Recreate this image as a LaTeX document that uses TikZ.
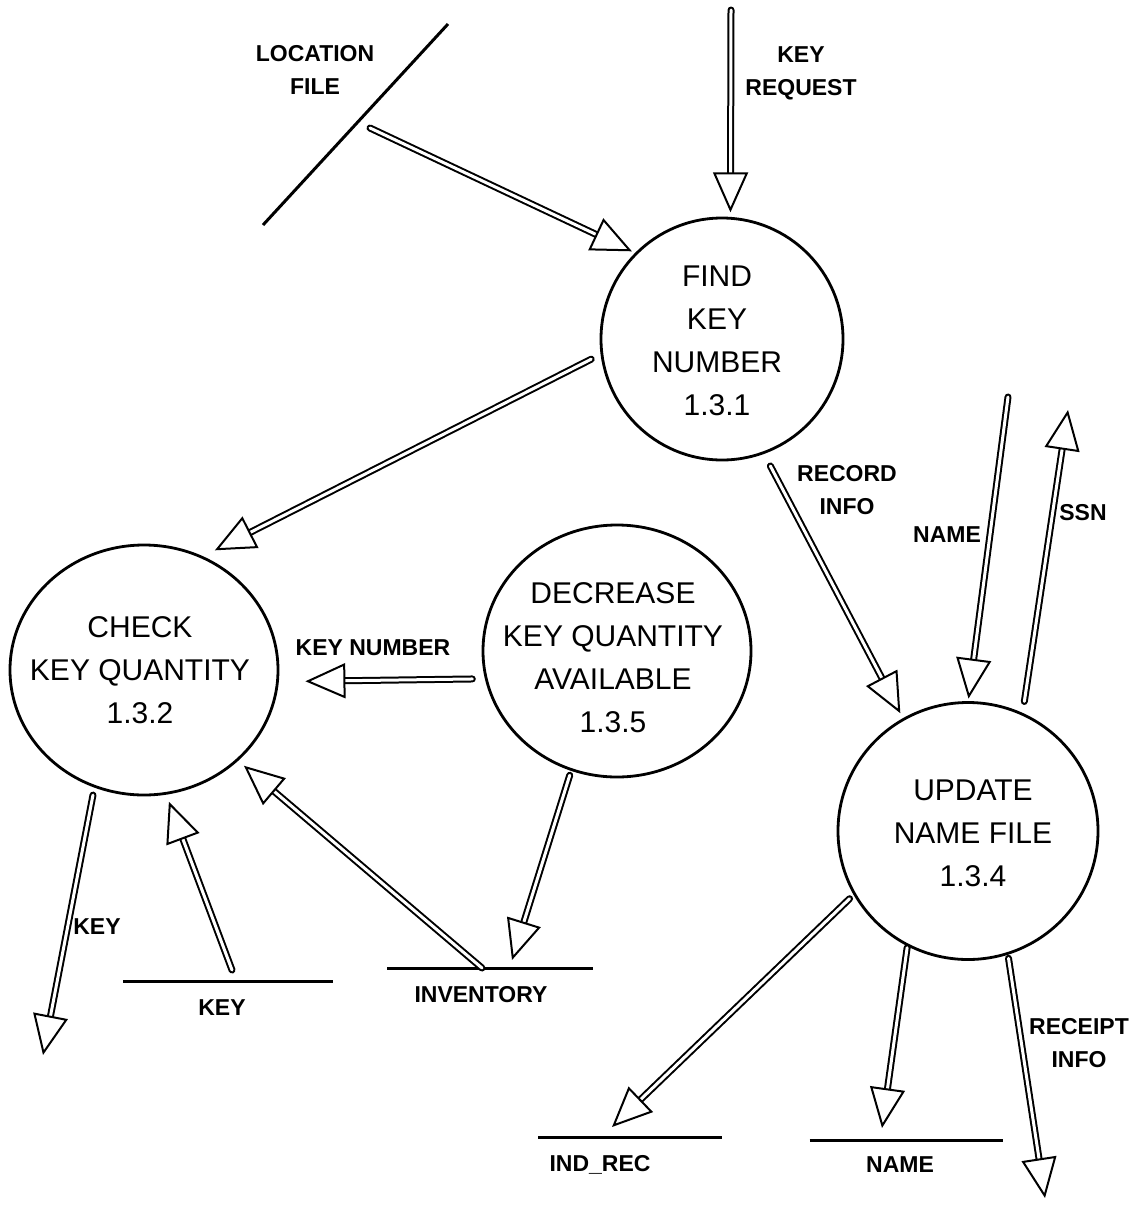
\documentclass[tikz,border=0pt]{standalone}
\usepackage{fontspec}
\setmainfont{Liberation Sans}
\usetikzlibrary{arrows.meta,shapes.geometric,calc}
\begin{document}
\begin{tikzpicture}[x=1pt,y=-1pt,
  proc/.style={ellipse, draw, line width=2.8pt, inner sep=0pt, outer sep=0pt},
  ptext/.style={align=center, font=\fontsize{30}{43}\selectfont, inner sep=0pt},
  lbl/.style={align=center, font=\fontsize{23}{33}\selectfont\bfseries, inner sep=0pt},
  storeline/.style={inner sep=0pt, minimum height=0pt, outer sep=0pt},
  storestroke/.style={line width=3pt},
  flow/.style={line width=2pt, double, double distance=3pt, line cap=round,
    -{Triangle[length=40pt,width=35pt,line width'=2pt,fill=white]}}
]
\useasboundingbox (0,0) rectangle (1133,1205);

% processes
\node[proc, minimum width=242pt, minimum height=242pt] (find) at (722,339) {};
\node[ptext] (findtxt) at (717,341) {FIND\\KEY\\NUMBER\\1.3.1};
\node[proc, minimum width=268pt, minimum height=250pt] (check) at (144,670) {};
\node[ptext] (checktxt) at (140,670) {CHECK\\KEY QUANTITY\\1.3.2};
\node[proc, minimum width=268pt, minimum height=252pt] (decr) at (617,651) {};
\node[ptext] (decrtxt) at (613,658) {DECREASE\\KEY QUANTITY\\AVAILABLE\\1.3.5};
\node[proc, minimum width=260pt, minimum height=257pt] (update) at (968,831) {};
\node[ptext] (updatetxt) at (973,833) {UPDATE\\NAME FILE\\1.3.4};

% stores
\coordinate (loc1) at (263,225);
\coordinate (loc2) at (448,24);
\draw[storestroke] (loc1) -- (loc2);
\node[lbl] (loclbl) at (315,70) {LOCATION\\FILE};

\node[storeline, minimum width=210pt] (keystore) at (228,981) {};
\draw[storestroke] (keystore.west) -- (keystore.east);
\node[lbl] (keystorelbl) at (222,1008) {KEY};

\node[storeline, minimum width=206pt] (invstore) at (490,968) {};
\draw[storestroke] (invstore.west) -- (invstore.east);
\node[lbl] (invlbl) at (481,995) {INVENTORY};

\node[storeline, minimum width=184pt] (indstore) at (630,1137) {};
\draw[storestroke] (indstore.west) -- (indstore.east);
\node[lbl] (indlbl) at (600,1165) {IND\_REC};

\node[storeline, minimum width=193pt] (namestore) at (906,1140) {};
\draw[storestroke] (namestore.west) -- (namestore.east);
\node[lbl] (namelbl) at (900,1165) {NAME};

% free ends
\coordinate (locsrc) at (370,128);
\coordinate (keyreq) at (731,10);
\coordinate (namein) at (1008,397);
\coordinate (ssnout) at (1068,410);
\coordinate (keyout) at (43,1055);
\coordinate (receiptout) at (1045,1198);

% flows
\draw[flow, shorten >=5pt] (locsrc) -- (find.135);
\draw[flow, shorten >=6pt] (keyreq) -- (find.86);
\draw[flow, shorten <=12pt, shorten >=15pt] (find.187) -- (check.63);
\draw[flow, shorten <=15pt, shorten >=7pt] (find.290) -- (update.120);
\draw[flow, shorten >=4pt] (namein) -- (update.90);
\draw[flow, shorten <=13pt] (update.65) -- (ssnout);
\draw[flow, shorten <=14pt, shorten >=28pt] (decr.192) -- (check.355);
\draw[flow, shorten <=9pt] (check.247) -- (keyout);
\draw[flow, shorten >=9pt] ([xshift=4pt,yshift=11pt]keystore.center) -- (check.280);
\draw[flow, shorten >=9pt] ([xshift=-8pt]invstore.center) -- (check.316);
\draw[flow, shorten <=6pt] (decr.249) -- ([xshift=22pt,yshift=8pt]invstore.center);
\draw[flow, shorten <=7pt] (update.209) -- ([xshift=-18pt,yshift=10pt]indstore.center);
\draw[flow, shorten <=3pt] (update.242) -- ([xshift=-24pt,yshift=12pt]namestore.center);
\draw[flow, shorten <=5pt] (update.288) -- (receiptout);

% flow labels
\node[lbl] (keyreqlbl) at (801,73) {KEY\\REQUEST};
\node[lbl] (recordlbl) at (847,490) {RECORD\\INFO};
\node[lbl] (namelbl2) at (947,535) {NAME};
\node[lbl] (ssnlbl) at (1083,513) {SSN};
\node[lbl] (keynumlbl) at (373,648) {KEY NUMBER};
\node[lbl] (keylbl) at (97,927) {KEY};
\node[lbl] (receiptlbl) at (1079,1043) {RECEIPT\\INFO};
\end{tikzpicture}
\end{document}
